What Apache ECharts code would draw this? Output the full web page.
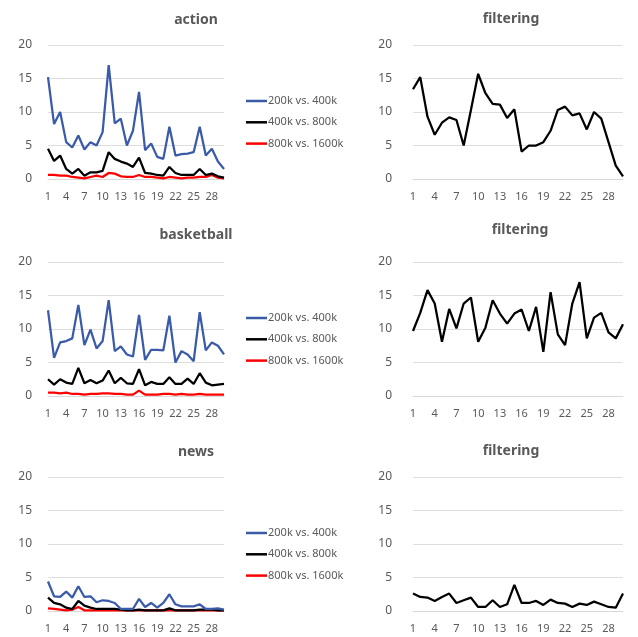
<!DOCTYPE html>
<html>
<head>
<meta charset="utf-8">
<script src="https://cdn.jsdelivr.net/npm/echarts@6/dist/echarts.min.js"></script>
<style>html,body{margin:0;padding:0;background:#fff;}#c{width:638px;height:637px;}</style>
</head>
<body>
<div id="c"></div>
<script>
const categories = Array.from({length: 30}, (_, i) => String(i + 1));
const seriesNames = ['200k vs. 400k', '400k vs. 800k', '800k vs. 1600k'];
const leftTitles = ['action', 'basketball', 'news'];
const rightTitles = ['filtering', 'filtering', 'filtering'];
const yTicks = [0, 5, 10, 15, 20];

const actionBlue = [15.2, 8.2, 10, 5.5, 4.7, 6.5, 4.4, 5.5, 5, 7, 17, 8.3, 9, 5, 7.2, 13, 4.3, 5.3, 3.3, 3, 7.8, 3.5, 3.7, 3.8, 4, 7.8, 3.5, 4.5, 2.6, 1.5];
const actionBlack = [4.5, 2.7, 3.5, 1.5, 0.8, 1.5, 0.5, 1, 1, 1.2, 4, 3, 2.6, 2.3, 1.8, 3.2, 0.9, 0.8, 0.6, 0.5, 1.8, 0.9, 0.6, 0.6, 0.6, 1.5, 0.6, 0.8, 0.4, 0.2];
const actionRed = [0.6, 0.6, 0.5, 0.5, 0.3, 0.2, 0.1, 0.3, 0.5, 0.3, 0.9, 0.8, 0.4, 0.3, 0.3, 0.6, 0.3, 0.3, 0.2, 0.1, 0.3, 0.2, 0.1, 0.2, 0.2, 0.3, 0.3, 0.6, 0.2, 0.1];

const basketBlue = [12.8, 5.7, 8, 8.2, 8.6, 13.6, 7.6, 9.9, 7.1, 8.2, 14.3, 6.7, 7.4, 6.2, 5.9, 12.1, 5.4, 6.9, 6.9, 6.8, 12, 5, 6.7, 6.2, 5.2, 12.5, 6.8, 8, 7.5, 6.2];
const basketBlack = [2.5, 1.7, 2.5, 2, 1.8, 4.2, 1.9, 2.4, 1.9, 2.3, 3.8, 1.9, 2.7, 1.9, 1.8, 4, 1.6, 2.1, 1.8, 1.8, 2.8, 1.8, 1.8, 2.6, 1.8, 3.4, 2, 1.6, 1.7, 1.8];
const basketRed = [0.5, 0.5, 0.4, 0.5, 0.3, 0.3, 0.2, 0.3, 0.3, 0.4, 0.4, 0.3, 0.3, 0.2, 0.2, 0.8, 0.2, 0.2, 0.2, 0.3, 0.3, 0.2, 0.3, 0.2, 0.2, 0.3, 0.2, 0.2, 0.2, 0.2];

const newsBlue = [4.4, 2.2, 2.1, 2.9, 2, 3.7, 2.1, 2.2, 1.3, 1.6, 1.5, 1.2, 0.3, 0.3, 0.3, 1.8, 0.6, 1.2, 0.5, 1.2, 2.5, 1, 0.7, 0.7, 0.7, 1, 0.3, 0.3, 0.4, 0.2];
const newsBlack = [2, 1.2, 1, 0.5, 0.3, 1.5, 0.8, 0.5, 0.3, 0.3, 0.3, 0.3, 0.2, 0.1, 0.1, 0.2, 0.1, 0.1, 0.1, 0.1, 0.4, 0.1, 0.1, 0.1, 0.1, 0.2, 0.2, 0.2, 0.1, 0.1];
const newsRed = [0.4, 0.3, 0.2, 0.1, 0.2, 0.6, 0.1, 0.1, 0.1, 0.1, 0.1, 0.1, 0.1, 0.1, 0.1, 0.1, 0.1, 0.1, 0.1, 0.1, 0.1, 0.1, 0.1, 0.1, 0.1, 0.1, 0.1, 0.1, 0.1, 0.1];

const filtering1 = [13.4, 15.2, 9.3, 6.6, 8.4, 9.2, 8.8, 5.0, 10.3, 15.7, 12.8, 11.2, 11.1, 9.1, 10.4, 4.1, 5, 5, 5.5, 7.2, 10.3, 10.8, 9.5, 9.8, 7.4, 10, 9, 5.5, 2, 0.4];
const filtering2 = [9.7, 12.4, 15.8, 13.8, 8.1, 13.0, 10.1, 13.8, 14.7, 8.1, 10.2, 14.3, 12.3, 10.8, 12.3, 12.9, 9.7, 13.3, 6.6, 15.5, 9.2, 7.6, 13.8, 17, 8.6, 11.7, 12.4, 9.5, 8.6, 10.7];
const filtering3 = [2.6, 2.1, 2, 1.5, 2.1, 2.6, 1.2, 1.6, 2, 0.6, 0.6, 1.6, 0.6, 1, 3.9, 1.2, 1.2, 1.5, 0.9, 1.7, 1.2, 1.1, 0.6, 1.1, 0.9, 1.4, 1, 0.6, 0.5, 2.6];

const leftData = [[actionBlue, actionBlack, actionRed], [basketBlue, basketBlack, basketRed], [newsBlue, newsBlack, newsRed]];
const rightData = [filtering1, filtering2, filtering3];
const colors = ['#3a5ba8', '#000000', '#ff0000'];

const FONT = '"Noto Sans", "Open Sans", sans-serif';
const GRAY = '#595959';
const rowTops = [45, 262, 477];
const plotH = 134;

const grids = [], xAxes = [], yAxes = [], series = [], titles = [], legends = [];
function addPanel(left, width, top, yMargin) {
  const idx = grids.length;
  grids.push({left: left, top: top, width: width, height: plotH, containLabel: false});
  xAxes.push({
    type: 'category', gridIndex: idx, data: categories, boundaryGap: false,
    axisLine: {show: true, lineStyle: {color: '#d9d9d9'}}, axisTick: {show: false},
    axisLabel: {interval: 2, color: GRAY, fontSize: 11, fontFamily: FONT, margin: 12}
  });
  yAxes.push({
    type: 'value', gridIndex: idx, min: yTicks[0], max: yTicks[yTicks.length - 1], interval: 5,
    axisLine: {show: false}, axisTick: {show: false},
    splitLine: {lineStyle: {color: '#dedede', width: 1}},
    axisLabel: {color: GRAY, fontSize: 12, fontFamily: FONT, margin: yMargin}
  });
  return idx;
}

for (let r = 0; r < 3; r++) {
  const li = addPanel(48, 176, rowTops[r], 16);
  leftData[r].forEach((d, k) => {
    series.push({
      name: seriesNames[k], type: 'line', xAxisIndex: li, yAxisIndex: li, data: d,
      symbol: 'none', lineStyle: {color: colors[k], width: 2.25}, itemStyle: {color: colors[k]},
      z: 10 - k
    });
  });
  const ri = addPanel(413, 210, rowTops[r], 21);
  series.push({
    name: rightTitles[r] + r, type: 'line', xAxisIndex: ri, yAxisIndex: ri, data: rightData[r],
    symbol: 'none', lineStyle: {color: '#000', width: 2.25}, itemStyle: {color: '#000'}
  });
  titles.push({text: leftTitles[r], left: 191, top: [8, 223, 440][r], textAlign: 'center',
    textStyle: {fontSize: 14, fontWeight: 'bold', color: GRAY, fontFamily: FONT}});
  titles.push({text: rightTitles[r], left: [506, 515, 506][r], top: [7, 218, 439][r], textAlign: 'center',
    textStyle: {fontSize: 14, fontWeight: 'bold', color: GRAY, fontFamily: FONT}});
  legends.push({
    data: seriesNames.map(n => ({name: n, icon: 'rect'})), orient: 'vertical', left: 246, top: rowTops[r] + 49,
    padding: 0, itemWidth: 21, itemHeight: 2.5, itemGap: 7.3, selectedMode: false,
    textStyle: {color: GRAY, fontSize: 11, fontFamily: FONT, lineHeight: 14, padding: [0, 0, 0, -4]}
  });
}

const chart = echarts.init(document.getElementById('c'), null, {renderer: 'canvas'});
chart.setOption({
  animation: false,
  backgroundColor: '#ffffff',
  title: titles,
  legend: legends,
  grid: grids,
  xAxis: xAxes,
  yAxis: yAxes,
  series: series
});
</script>
</body>
</html>
